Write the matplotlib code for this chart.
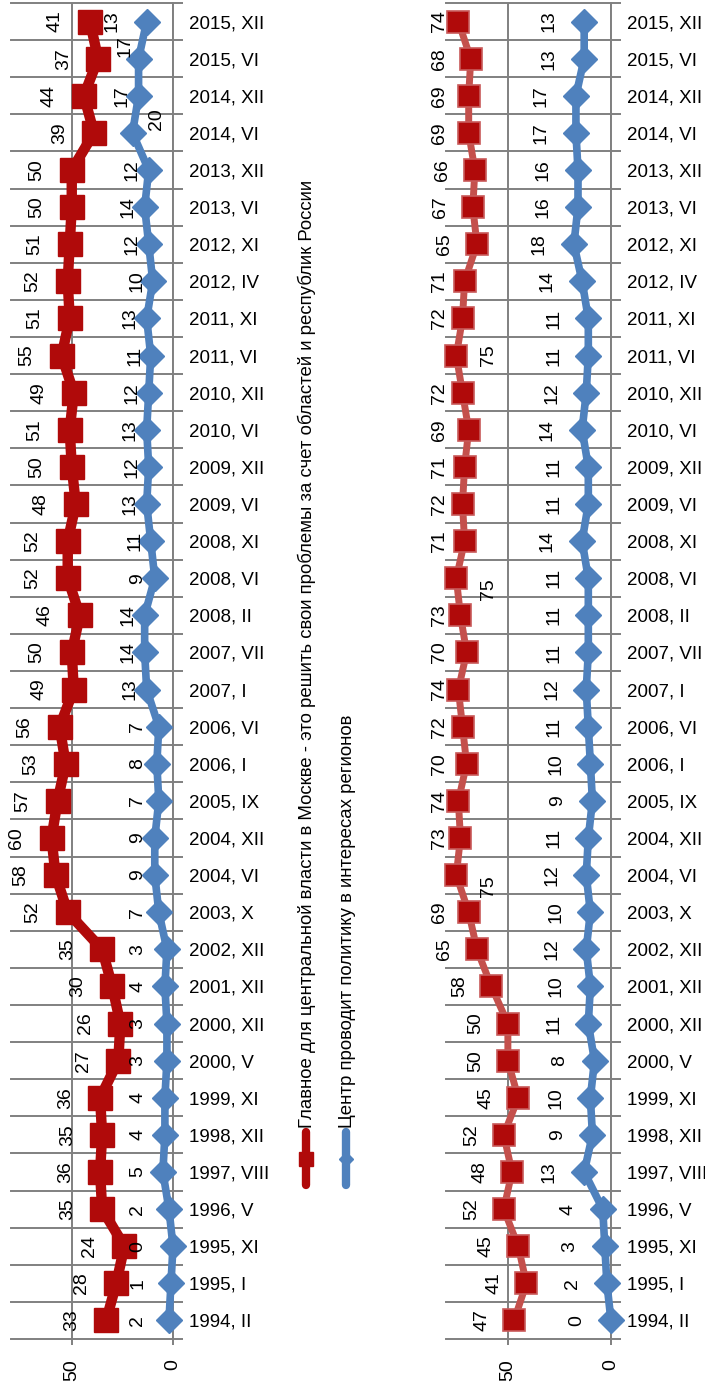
import matplotlib
matplotlib.use('Agg')
import matplotlib.pyplot as plt
from matplotlib import font_manager
from matplotlib.lines import Line2D
import numpy as np

# ---------------- data ----------------
categories = ["1994, II", "1995, I", "1995, XI", "1996, V", "1997, VIII", "1998, XII",
              "1999, XI", "2000, V", "2000, XII", "2001, XII", "2002, XII", "2003, X",
              "2004, VI", "2004, XII", "2005, IX", "2006, I", "2006, VI", "2007, I",
              "2007, VII", "2008, II", "2008, VI", "2008, XI", "2009, VI", "2009, XII",
              "2010, VI", "2010, XII", "2011, VI", "2011, XI", "2012, IV", "2012, XI",
              "2013, VI", "2013, XII", "2014, VI", "2014, XII", "2015, VI", "2015, XII"]

left_moscow = [33, 28, 24, 35, 36, 35, 36, 27, 26, 30, 35, 52, 58, 60, 57, 53, 56, 49,
               50, 46, 52, 52, 48, 50, 51, 49, 55, 51, 52, 51, 50, 50, 39, 44, 37, 41]
left_center = [2, 1, 0, 2, 5, 4, 4, 3, 3, 4, 3, 7, 9, 9, 7, 8, 7, 13,
               14, 14, 9, 11, 13, 12, 13, 12, 11, 13, 10, 12, 14, 12, 20, 17, 17, 13]

right_moscow = [47, 41, 45, 52, 48, 52, 45, 50, 50, 58, 65, 69, 75, 73, 74, 70, 72, 74,
                70, 73, 75, 71, 72, 71, 69, 72, 75, 72, 71, 65, 67, 66, 69, 69, 68, 74]
right_center = [0, 2, 3, 4, 13, 9, 10, 8, 11, 10, 12, 10, 12, 11, 9, 10, 11, 12,
                11, 11, 11, 14, 11, 11, 14, 12, 11, 11, 14, 18, 16, 16, 17, 17, 13, 13]

legend_labels = ["Главное для центральной власти в Москве - это решить свои проблемы за счет областей и республик России",
                 "Центр проводит политику в интересах регионов"]
value_ticks = [0, 50]

# ---------------- style ----------------
W, H = 705, 1384
DPI = 100
RED = '#b00a0a'
RED_LINE_R = '#c4504c'
BLUE = '#4f81bd'
GRID = '#808080'

plt.rcParams['font.family'] = ['Liberation Sans', 'DejaVu Sans']
FS_CAT = 13.5
FS = 14
FS_LEG = 13.4

fig = plt.figure(figsize=(W / DPI, H / DPI), dpi=DPI)
fig.patch.set_facecolor('white')


def px_axes(left, right, top, bottom):
    return fig.add_axes([left / W, 1 - bottom / H, (right - left) / W, (bottom - top) / H])


def setup(ax):
    n = len(categories)
    ax.set_xlim(80, 0)
    ax.set_ylim(-0.5, n - 0.5)
    for s in ['left', 'top', 'bottom']:
        ax.spines[s].set_visible(False)
    ax.spines['right'].set_color(GRID)
    ax.spines['right'].set_linewidth(1.4)
    ax.yaxis.tick_right()
    ax.set_yticks(np.arange(-0.5, n, 1.0))
    ax.set_yticklabels([])
    ax.set_yticks(np.arange(n), minor=True)
    ax.set_yticklabels(categories, minor=True)
    ax.tick_params(axis='y', which='major', length=7, width=1.4, color=GRID, direction='out')
    ax.tick_params(axis='y', which='minor', length=0, pad=11.5, labelsize=FS_CAT)
    ax.grid(axis='y', which='major', color=GRID, lw=1.4)
    ax.set_xticks(value_ticks)
    ax.set_xticklabels([str(v) for v in value_ticks])
    ax.tick_params(axis='x', length=4.5, width=1.4, color=GRID, pad=10, labelsize=FS,
                   labelrotation=90)
    ax.grid(axis='x', color=GRID, lw=1.4)
    for gl in ax.get_ygridlines():
        gl.set_clip_on(False)
    ax.set_axisbelow(True)


y = np.arange(len(categories))

# ---------------- left panel ----------------
axL = px_axes(11, 173, 3, 1339)
setup(axL)
axL.plot(left_center, y, color=BLUE, lw=5.5, marker='D', ms=13, mfc=BLUE, mec=BLUE,
         solid_joinstyle='round', zorder=3, clip_on=False)
axL.plot(left_moscow, y, color=RED, lw=7.5, marker='s', ms=17, mfc=RED, mec=RED,
         solid_joinstyle='round', zorder=4, clip_on=False)

for i, v in enumerate(left_moscow):
    axL.annotate(str(v), (v, i), xytext=(-25, 0), textcoords='offset points',
                 rotation=90, ha='center', va='center', fontsize=FS, zorder=6)

special_left = {len(categories) - 1: (-25, 0), len(categories) - 2: (-10, 9),
                len(categories) - 4: (17, 10)}
for i, v in enumerate(left_center):
    if i in special_left:
        axL.annotate(str(v), (v, i), xytext=special_left[i], textcoords='offset points',
                     rotation=90, ha='center', va='center', fontsize=FS, zorder=6)
    else:
        lab = max(v + 8, 17.5)
        axL.annotate(str(v), (v, i), xytext=(lab, i), textcoords='data',
                     rotation=90, ha='center', va='center', fontsize=FS, zorder=6)

# ---------------- right panel ----------------
axR = px_axes(446, 611, 3, 1339)
setup(axR)
axR.plot(right_center, y, color=BLUE, lw=5.5, marker='D', ms=13, mfc=BLUE, mec=BLUE,
         solid_joinstyle='round', zorder=3, clip_on=False)
axR.plot(right_moscow, y, color=RED_LINE_R, lw=5, zorder=4, solid_joinstyle='round')
axR.plot(right_moscow, y, ls='none', marker='s', ms=15.5, mfc=RED, mec='#c85a5a',
         mew=1.2, zorder=5, clip_on=False)

for i, v in enumerate(right_moscow):
    if v >= 75:
        dy = 0 if categories[i] == "2011, VI" else -8
        axR.annotate(str(v), (v, i), xytext=(23, dy), textcoords='offset points',
                     rotation=90, ha='center', va='center', fontsize=FS, zorder=6)
    else:
        lab = min(v + 15.5, 83)
        axR.annotate(str(v), (v, i), xytext=(lab, i), textcoords='data',
                     rotation=90, ha='center', va='center', fontsize=FS, zorder=6,
                     annotation_clip=False)

for i, v in enumerate(right_center):
    axR.annotate(str(v), (v, i), xytext=(-25, 0), textcoords='offset points',
                 rotation=90, ha='center', va='center', fontsize=FS, zorder=6)

# ---------------- legend (rotated) ----------------
leg_x = [306, 346]
leg_colors = [RED, BLUE]
leg_markers = ['s', 'D']
for xpx, col, mk, lab in zip(leg_x, leg_colors, leg_markers, legend_labels):
    fx = xpx / W
    fig.add_artist(Line2D([fx, fx], [1 - 1185 / H, 1 - 1132 / H], color=col, lw=6,
                          solid_capstyle='round', transform=fig.transFigure))
    fig.add_artist(Line2D([fx], [1 - 1159 / H], color=col, marker=mk,
                          ms=10 if mk == 's' else 7, transform=fig.transFigure))
    fig.text(fx + 1 / W, 1 - 1128 / H, lab, rotation=90, ha='center', va='bottom',
             fontsize=FS_LEG)

fig.savefig('out.png', dpi=DPI, facecolor='white')
